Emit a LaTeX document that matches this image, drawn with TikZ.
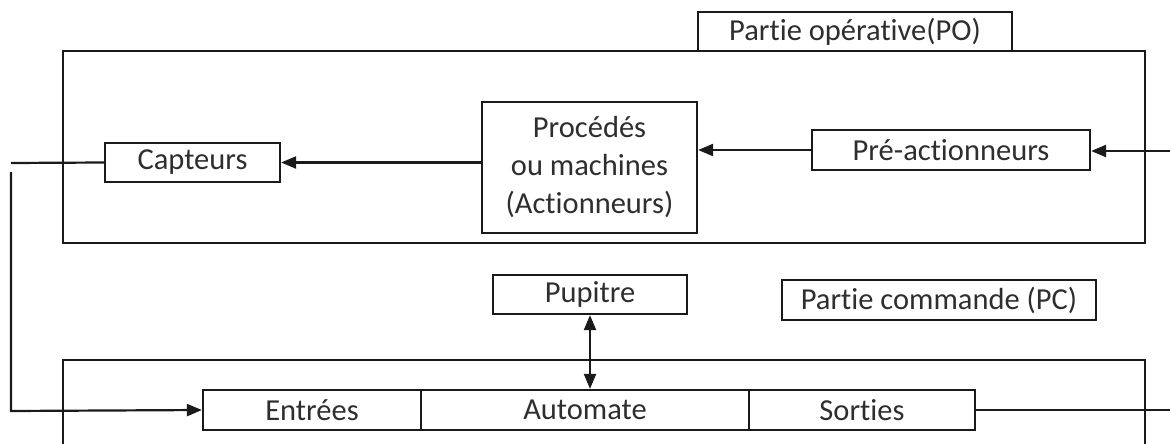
\documentclass[tikz,border=0pt]{standalone}
\usepackage{fontspec}
\setmainfont[RawFeature=-liga]{Carlito}
\usetikzlibrary{arrows.meta}
\definecolor{ink}{HTML}{1A1A1A}
\definecolor{txt}{HTML}{2E2E2E}
\begin{document}
\begin{tikzpicture}[x=1pt,y=-1pt,
  line width=2.2pt, draw=ink,
  box/.style={draw=ink, line width=2.2pt, inner sep=0pt, fill=white,
    text=txt, font=\fontsize{30.5}{38}\selectfont, align=center},
  arr/.style={-{Triangle[length=15pt,width=12pt]}, ink},
  darr/.style={{Triangle[length=15pt,width=12pt]}-{Triangle[length=15pt,width=12pt]}, ink}]
\useasboundingbox (0,0) rectangle (1170,444);

% operative part frame
\node[draw=ink, line width=2.2pt, inner sep=0pt, minimum width=1082pt, minimum height=192pt] (po) at (604,147) {};
\node[box, minimum width=314pt, minimum height=39pt] (polabel) at (855,31.5) {Partie opérative(PO)};

% command part frame, open at the bottom
\coordinate (pcbl) at (63,444);
\coordinate (pcbr) at (1145,444);
\draw (pcbl) -- (63,360) -- (1145,360) -- (pcbr);

% blocks
\node[box, minimum width=175pt, minimum height=39pt] (capteurs) at (192.5,162.5) {Capteurs};
\node[box, minimum width=215pt, minimum height=131pt] (procedes) at (589.5,167.5) {Procédés\\ou machines\\(Actionneurs)};
\node[box, minimum width=278pt, minimum height=40pt] (preact) at (951,150) {Pré-actionneurs};
\node[box, minimum width=194pt, minimum height=39pt] (pupitre) at (590,294.5) {Pupitre};
\node[box, minimum width=314pt, minimum height=40pt] (pclabel) at (939,300) {Partie commande (PC)};
\node[box, minimum width=218pt, minimum height=40pt] (entrees) at (312,410) {Entrées};
\node[box, minimum width=328pt, minimum height=40pt] (automate) at (585,410) {Automate};
\node[box, minimum width=226pt, minimum height=40pt] (sorties) at (862,410) {Sorties};

% free ends at the picture edges
\coordinate (capout) at (11,163);
\coordinate (loopTop) at (11,172);
\coordinate (loopBot) at (11,411);
\coordinate (inPre) at (1170,151);
\coordinate (outSor) at (1170,410);

% connectors
\draw (capteurs.west) -- (capout);
\draw[arr] (loopTop) -- (loopBot) -- (entrees.west);
\draw[arr] (procedes.west |- capteurs.east) -- (capteurs.east);
\draw[arr] (preact.west) -- (procedes.east |- preact.west);
\draw[arr] (inPre) -- (preact.east |- inPre);
\draw[darr] (pupitre.south) -- (automate.north -| pupitre.south);
\draw (sorties.east) -- (outSor);
\end{tikzpicture}
\end{document}
